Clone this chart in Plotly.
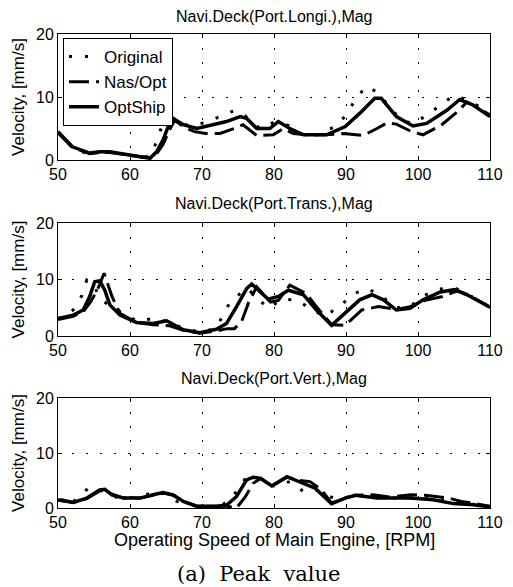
import plotly.graph_objects as go
from plotly.subplots import make_subplots

# ---------------- data ----------------
panel_titles = ["Navi.Deck(Port.Longi.),Mag", "Navi.Deck(Port.Trans.),Mag", "Navi.Deck(Port.Vert.),Mag"]
series_names = ["Original", "Nas/Opt", "OptShip"]

# Top panel: Port.Longi.
longi_orig_x = [50, 52, 54, 56, 58, 60, 62, 63, 63.7, 64.5, 66, 68, 70.4, 72.5, 74.6, 76, 78, 80, 82, 84, 86, 88.5, 90, 91.3, 92.8, 94.3, 96, 97.5, 99.3, 101.2, 103, 104.9, 106.8, 108.5, 110]
longi_orig_y = [4.5, 2.0, 1.0, 1.3, 1.2, 0.8, 0.4, 0.8, 2.9, 5.6, 6.5, 5.5, 5.9, 6.9, 7.9, 7.0, 5.0, 6.0, 5.5, 4.0, 4.0, 5.3, 7.1, 9.6, 11.7, 10.8, 8.5, 6.5, 5.7, 7.1, 8.6, 10.2, 9.6, 8.5, 7.5]
longi_nas_x = [50, 52, 54.4, 56, 57.2, 59.5, 61.4, 62.8, 63.7, 64.6, 65.5, 66.2, 67.5, 69, 70.5, 72.5, 74.5, 75.7, 77.6, 79.9, 81.3, 82.7, 84.5, 87, 89.6, 91, 92.4, 94.3, 95.7, 97, 99.1, 100.7, 103.3, 105.4, 106.8, 108.6, 110]
longi_nas_y = [4.3, 2.0, 1.0, 1.2, 1.2, 0.8, 0.5, 0.3, 1.0, 2.5, 4.8, 6.3, 5.2, 4.5, 4.2, 4.2, 5.0, 5.6, 3.9, 4.0, 5.0, 4.2, 4.0, 4.0, 4.2, 4.0, 3.9, 5.0, 5.9, 5.7, 4.5, 4.0, 5.6, 7.6, 9.2, 8.2, 7.1]
longi_opt_x = [50, 52, 54.4, 55.8, 57.2, 59.5, 61.4, 62.8, 63.7, 64.6, 65.3, 66, 67.4, 69.3, 71.6, 73.4, 75.3, 76.2, 77.6, 79.4, 80.6, 82.2, 84.1, 87.3, 89.9, 91.9, 94, 94.9, 97, 99.3, 101.2, 104, 105.8, 107.7, 110]
longi_opt_y = [4.5, 2.1, 1.1, 1.3, 1.3, 0.8, 0.5, 0.3, 1.3, 3.2, 5.3, 6.6, 5.6, 5.0, 5.6, 6.1, 6.9, 6.6, 5.0, 5.0, 6.1, 5.0, 4.0, 4.0, 5.3, 7.4, 9.8, 9.8, 6.9, 5.4, 5.8, 7.9, 9.6, 8.7, 6.9]

# Middle panel: Port.Trans.
trans_orig_x = [50, 52.1, 53.3, 54.0, 55.0, 55.8, 57, 58.4, 61, 63.7, 66, 68, 70, 72, 73.9, 74.8, 76.3, 77.6, 79.3, 81, 83.1, 85.0, 87, 89.2, 90.9, 93.0, 95, 97, 98.9, 100.7, 103.0, 105.1, 107, 110]
trans_orig_y = [3.0, 4.6, 7.1, 9.9, 9.0, 6.7, 5.5, 4.5, 2.6, 3.2, 2.0, 1.2, 0.6, 1.5, 6.0, 7.0, 8.5, 6.7, 4.9, 6.5, 6.4, 4.9, 3.5, 5.3, 7.4, 8.4, 7.0, 5.0, 5.2, 7.1, 8.3, 8.5, 7.3, 5.1]
trans_nas_x = [50, 52.1, 53.5, 54.5, 55.5, 56.4, 57.5, 58.6, 60.9, 63.2, 65.5, 67.4, 69.7, 72, 73.5, 74.5, 75.5, 76.5, 77.6, 78.5, 79.5, 80.6, 82.2, 84.5, 86, 88, 89.9, 92.2, 94.5, 97, 98.9, 101, 103.4, 105.5, 107, 110]
trans_nas_y = [2.9, 3.5, 4.3, 6.0, 8.2, 11.1, 7.0, 4.0, 2.4, 2.0, 1.8, 1.0, 0.5, 0.9, 1.3, 1.3, 2.6, 6.0, 8.7, 7.4, 6.0, 6.3, 9.0, 7.5, 5.0, 2.0, 1.9, 4.6, 5.2, 4.7, 5.2, 6.3, 7.0, 8.0, 7.3, 5.1]
trans_opt_x = [50, 52.1, 53.5, 54.4, 55.1, 55.8, 56.5, 57.2, 58.6, 60.9, 63.2, 65.1, 67.4, 69.7, 72.0, 73.4, 74.8, 76.2, 76.9, 78.1, 79.2, 80.6, 82.0, 84.1, 85.9, 88.0, 90.1, 91.9, 93.6, 95.2, 97.0, 98.9, 100.7, 103.1, 105.1, 106.8, 110]
trans_opt_y = [3.1, 3.7, 4.6, 7.0, 9.6, 9.8, 8.1, 5.5, 3.7, 2.4, 2.2, 2.7, 1.1, 0.6, 1.2, 2.2, 5.2, 8.4, 9.2, 7.8, 6.5, 7.0, 8.1, 7.3, 4.6, 1.9, 4.3, 6.4, 7.3, 6.4, 4.6, 4.9, 6.4, 7.8, 8.2, 7.3, 5.1]

# Bottom panel: Port.Vert.
vert_orig_x = [50, 52, 54.2, 56, 58, 60, 62.8, 64.5, 66.5, 68, 70, 72, 73.7, 75.0, 76.2, 78, 80, 82.2, 84.1, 86, 88.7, 91.3, 94, 97, 100, 103, 106, 108, 110]
vert_orig_y = [1.5, 1.0, 3.6, 3.2, 2.0, 1.8, 2.6, 2.8, 1.2, 0.8, 0.3, 0.3, 1.1, 3.4, 5.7, 5.3, 4.0, 4.8, 3.0, 3.2, 1.5, 2.3, 1.9, 1.8, 1.8, 1.5, 0.9, 0.6, 0.3]
vert_nas_x = [50, 52.1, 54, 55.8, 56.5, 57.5, 59.1, 61.4, 63.2, 64.6, 66, 67.4, 69.3, 72, 73.5, 74.8, 76, 77.1, 78.2, 79.7, 81.8, 83.6, 85.0, 86.6, 88.0, 89.9, 91.3, 93.8, 96, 99, 101, 104.3, 106, 108, 110]
vert_nas_y = [1.4, 1.0, 1.7, 3.1, 3.3, 2.5, 1.8, 1.8, 2.3, 2.7, 2.3, 1.2, 0.3, 0.3, 0.3, 0.0, 2.0, 4.5, 5.4, 4.0, 5.6, 5.0, 4.8, 3.3, 0.9, 1.8, 2.3, 2.4, 2.0, 2.4, 2.3, 1.8, 1.2, 0.8, 0.3]
vert_opt_x = [50.3, 52.1, 54, 55.8, 56.5, 57.5, 59.1, 61.4, 63.2, 64.6, 66.0, 67.4, 69.3, 72, 73.4, 74.8, 76.2, 77.1, 78.1, 79.7, 81.8, 83.6, 85.7, 88.0, 89.9, 91.3, 94.3, 98.9, 102.1, 104.9, 107.7, 110]
vert_opt_y = [1.5, 1.0, 1.8, 3.3, 3.4, 2.4, 1.8, 1.8, 2.4, 2.8, 2.4, 1.2, 0.3, 0.3, 0.5, 2.1, 5.1, 5.6, 5.4, 4.0, 5.7, 4.8, 3.6, 0.8, 1.8, 2.3, 1.8, 1.8, 1.5, 0.8, 0.6, 0.2]

x_ticks = [50, 60, 70, 80, 90, 100, 110]
y_ticks = [0, 10, 20]

panels = [
    [(longi_orig_x, longi_orig_y), (longi_nas_x, longi_nas_y), (longi_opt_x, longi_opt_y)],
    [(trans_orig_x, trans_orig_y), (trans_nas_x, trans_nas_y), (trans_opt_x, trans_opt_y)],
    [(vert_orig_x, vert_orig_y), (vert_nas_x, vert_nas_y), (vert_opt_x, vert_opt_y)],
]

# ---------------- figure ----------------
FONT = "Liberation Sans, Arial, sans-serif"
W, H = 513, 587
ml, mr, mt, mb = 58, 23, 34, 79
ph = H - mt - mb

def frac(pix):
    return (H - mb - pix) / ph

domains = [[frac(160), 1.0], [frac(336), frac(223)], [0.0, frac(398)]]

fig = make_subplots(rows=3, cols=1)

line_styles = [
    dict(color="black", width=3, dash="3px,13px"),
    dict(color="black", width=3, dash="20px,7px"),
    dict(color="black", width=3.5),
]

for i, panel in enumerate(panels):
    for j, (xs, ys) in enumerate(panel):
        fig.add_trace(go.Scatter(x=xs, y=ys, mode="lines", name=series_names[j],
                                 line=line_styles[j], showlegend=(i == 0),
                                 legendrank=j), row=i + 1, col=1)

axis_common = dict(showline=True, linecolor="black", linewidth=1, mirror="ticks",
                   ticks="inside", ticklen=4, tickcolor="black",
                   showgrid=True, gridcolor="black", gridwidth=1, griddash="2px,12px",
                   zeroline=False, automargin=False,
                   tickfont=dict(family=FONT, size=16, color="black"))

for i in range(3):
    n = "" if i == 0 else str(i + 1)
    fig.layout["xaxis" + n].update(range=[50, 110], tickvals=x_ticks, domain=[0, 1], **axis_common)
    fig.layout["yaxis" + n].update(range=[0, 20], tickvals=y_ticks, domain=domains[i],
                                   title=dict(text="Velocity, [mm/s]", standoff=7,
                                              font=dict(family=FONT, size=17, color="black")),
                                   **axis_common)

fig.add_annotation(text="Operating Speed of Main Engine, [RPM]", x=0.5, xref="paper",
                   y=frac(540), yref="paper", showarrow=False, yanchor="middle", xanchor="center",
                   font=dict(family=FONT, size=18, color="black"))

title_y_pix = [16, 204, 378]
for t, yp in zip(panel_titles, title_y_pix):
    fig.add_annotation(text=t, x=0.5, xref="paper", y=frac(yp), yref="paper",
                       showarrow=False, yanchor="middle", xanchor="center",
                       font=dict(family=FONT, size=16, color="black"))

fig.add_annotation(text="(a)  Peak  value", x=(259 - ml) / (W - ml - mr), xref="paper",
                   y=frac(574), yref="paper", showarrow=False, yanchor="middle", xanchor="center",
                   font=dict(family="DejaVu Serif, Liberation Serif, serif", size=21, color="black"))

fig.update_layout(
    width=W, height=H,
    margin=dict(l=ml, r=mr, t=mt, b=mb, autoexpand=False),
    paper_bgcolor="white", plot_bgcolor="white",
    font=dict(family=FONT, color="black"),
    legend=dict(x=(63 - ml) / (W - ml - mr), y=frac(38), xanchor="left", yanchor="top",
                bgcolor="white", bordercolor="black", borderwidth=1,
                font=dict(family=FONT, size=17, color="black"),
                tracegroupgap=0, itemwidth=30),
    showlegend=True,
)

fig.write_html("out.html", config={"displayModeBar": False},
               post_script="document.body.style.margin='0px';")
